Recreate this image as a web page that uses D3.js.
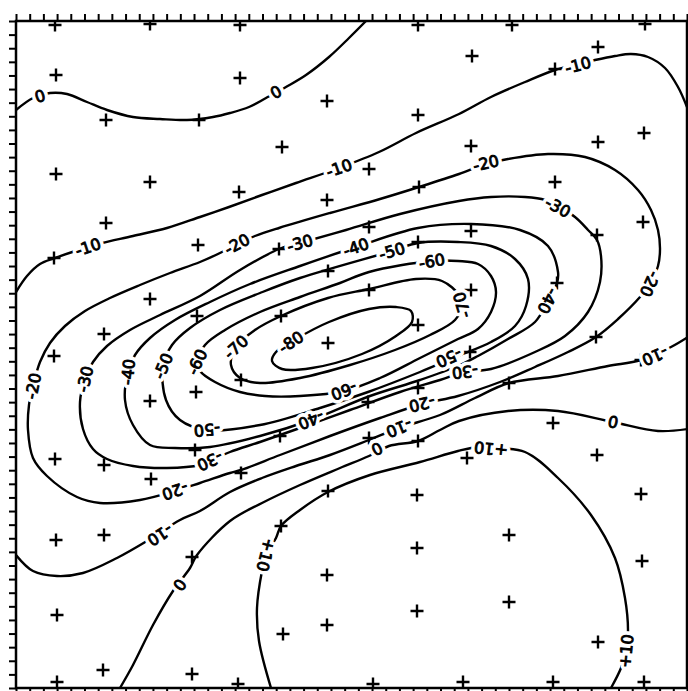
<!DOCTYPE html>
<html><head><meta charset="utf-8">
<script src="https://cdn.jsdelivr.net/npm/d3@7"></script>
<style>body{margin:0;background:#fff}</style></head>
<body><div id="chart"></div>
<script>
// ---- data (sheet units: x right, y down) ----
const sheetWidth = 671, sheetHeight = 667, tickIntervals = 49;

const stations = [
 [39,4],[134,3],[224,4],[402,4],[496,4],[629,3],
 [40,54],[90,99],[183,99],[40,153],[134,161],[90,202],
 [224,57],[311,80],[402,94],[266,126],[353,148],[223,171],[311,179],[403,166],[353,206],
 [456,35],[582,26],[539,48],[455,125],[582,121],[628,112],[539,161],[627,201],[455,210],
 [38,237],[182,224],[134,278],[88,313],[38,335],[181,295],[134,380],[180,371],[179,429],[39,438],
 [263,228],[402,221],[312,250],[353,269],[265,295],[402,304],[312,322],[225,359],[402,367],[352,381],[264,415],[353,417],[402,420],
 [581,214],[455,269],[541,262],[454,331],[580,316],[625,339],[493,362],[537,402],[451,437],[581,434],
 [88,444],[135,458],[40,519],[88,514],[176,536],[41,594],[87,649],[176,653],[41,661],
 [225,452],[312,470],[401,474],[265,505],[401,527],[311,554],[401,590],[311,604],[267,613],[222,663],[357,663],
 [625,473],[493,514],[626,540],[493,581],[582,621],[447,661],[537,661],[628,661]
];

const c0Top = [[0,89],[17,77],[34,72],[51,73],[71,81],[91,89],[117,96],[144,98],[171,99],[197,96],[214,92],[233,86],[250,77],[270,66],[290,54],[313,36],[333,17],[350,0]];
const cm10Top = [[0,271],[11,255],[24,243],[39,237],[72,226],[86,222],[117,215],[151,207],[184,196],[213,186],[246,174],[280,162],[323,147],[363,131],[400,112],[443,93],[475,76],[509,61],[539,49],[562,43],[579,39],[599,35],[615,33],[632,36],[649,47],[662,66],[671,86]];
const cm20 = [[17,437],[12,409],[13,384],[17,365],[24,341],[34,322],[49,305],[69,290],[94,277],[124,264],[154,252],[184,241],[206,231],[221,223],[239,215],[263,207],[314,192],[364,178],[403,166],[443,153],[470,143],[492,138],[532,133],[569,136],[599,149],[622,169],[635,189],[642,209],[644,228],[642,245],[634,263],[624,276],[602,298],[580,316],[552,331],[519,346],[484,361],[442,375],[406,383],[364,397],[314,415],[264,434],[225,449],[214,452],[184,462],[159,470],[124,479],[84,482],[61,476],[31,455]];
const cm30 = [[91,438],[77,428],[67,408],[64,381],[69,358],[77,341],[91,325],[114,309],[144,294],[184,275],[224,249],[263,228],[284,222],[330,209],[384,193],[443,180],[475,176],[509,176],[529,179],[542,186],[559,196],[572,209],[581,219],[585,235],[584,261],[572,291],[549,315],[519,331],[475,348],[449,351],[424,359],[384,371],[334,389],[284,407],[244,421],[214,431],[194,440],[184,444],[151,447],[117,445]];
const cm40 = [[134,424],[117,404],[109,379],[112,351],[119,334],[134,317],[159,299],[194,281],[234,263],[284,245],[340,226],[402,207],[455,203],[504,209],[532,225],[542,251],[541,262],[532,280],[519,301],[492,318],[462,335],[442,345],[404,359],[354,375],[295,399],[244,415],[194,426],[159,427]];
const cm50 = [[147,345],[156,324],[174,307],[204,289],[244,272],[284,257],[376,230],[402,222],[442,221],[475,225],[499,238],[512,258],[510,285],[499,305],[475,321],[442,335],[404,351],[352,371],[304,387],[244,404],[191,409],[164,399],[150,379]];
const cm60 = [[181,341],[189,324],[209,309],[244,291],[284,276],[324,262],[353,251],[416,240],[442,240],[462,243],[475,255],[480,271],[475,291],[462,308],[442,318],[404,337],[364,357],[328,370],[284,375],[249,375],[224,371],[199,361],[184,350]];
const cm70 = [[220,326],[239,309],[265,295],[312,277],[353,268],[400,258],[426,260],[443,274],[446,284],[439,299],[414,314],[379,329],[334,344],[284,357],[244,362],[224,357],[215,344]];
const cm80 = [[256,340],[266,348],[296,347],[346,333],[380,315],[396,301],[395,290],[380,286],[353,288],[313,301],[280,318],[260,331]];
const c0Low = [[104,667],[117,644],[137,604],[157,570],[174,547],[181,534],[214,500],[246,482],[284,464],[324,447],[353,435],[373,425],[402,420],[424,409],[443,400],[492,390],[542,390],[597,401],[642,410],[672,408]];
const cm10Low = [[0,534],[17,550],[41,555],[67,552],[101,537],[131,520],[164,499],[184,490],[214,471],[246,457],[280,445],[314,434],[353,419],[383,407],[424,394],[459,377],[493,362],[542,355],[592,345],[625,339],[655,326],[672,316]];
const cp10 = [[255,667],[243,620],[241,587],[246,550],[250,534],[260,517],[265,505],[284,489],[312,471],[354,454],[404,441],[442,430],[462,426],[475,427],[509,431],[542,457],[575,494],[599,537],[609,577],[612,610],[610,630],[605,647],[595,667]];

const contourLevels = [0,-10,-20,-30,-40,-50,-60,-70,-80,0,-10,10];
const contourLines = [c0Top,cm10Top,cm20,cm30,cm40,cm50,cm60,cm70,cm80,c0Low,cm10Low,cp10];
const contourClosed = [false,false,true,true,true,true,true,true,true,false,false,false];

// label anchors: [contour index, x, y, upside-down]
const labelAnchors = [
 [0,24,75,0],[0,260,71,0],
 [1,72,226,0],[1,323,147,0],[1,562,44,0],
 [2,17,365,0],[2,221,223,0],[2,470,142,0],[2,634,263,1],[2,406,383,1],[2,159,470,1],
 [3,69,358,0],[3,284,222,0],[3,542,186,0],[3,449,351,1],[3,194,440,1],
 [4,112,351,0],[4,340,226,0],[4,532,280,1],[4,295,399,1],
 [5,147,345,0],[5,376,230,0],[5,433,337,1],[5,191,409,1],
 [6,181,341,0],[6,416,240,0],[6,328,370,1],
 [7,220,326,0],[7,446,284,1],
 [8,275,321,0],
 [9,164,564,0],[9,361,428,1],[9,597,401,1],
 [10,144,514,1],[10,383,407,1],[10,639,335,1],
 [11,250,534,1],[11,475,428,1],[11,610,630,0]
];

// ---- drawing ----
const W = 688, H = 691;
const svg = d3.select("#chart").append("svg").attr("width", W).attr("height", H)
  .style("font-family", "'DejaVu Sans', sans-serif");
const x = d3.scaleLinear().domain([0, sheetWidth]).range([16, 687]);
const y = d3.scaleLinear().domain([0, sheetHeight]).range([21, 688]);

const xt = d3.range(tickIntervals + 1).map(i => i * sheetWidth / tickIntervals);
const yt = d3.range(tickIntervals + 1).map(i => i * sheetHeight / tickIntervals);
function styleAxis(g){ g.select(".domain").remove(); g.selectAll(".tick line").attr("stroke","#000").attr("stroke-width",2); }
svg.append("g").attr("transform","translate(0,21)").call(d3.axisTop(x).tickValues(xt).tickSize(7).tickFormat("")).call(styleAxis);
svg.append("g").attr("transform","translate(0,688)").call(d3.axisBottom(x).tickValues(xt).tickSize(7).tickFormat("")).call(styleAxis);
svg.append("g").attr("transform","translate(16,0)").call(d3.axisLeft(y).tickValues(yt).tickSize(7).tickFormat("")).call(styleAxis);
svg.append("g").attr("transform","translate(687,0)").call(d3.axisRight(y).tickValues(yt).tickSize(7).tickFormat("")).call(styleAxis);

svg.append("clipPath").attr("id","clip").append("rect")
  .attr("x", x(0)).attr("y", y(0)).attr("width", x(sheetWidth)-x(0)).attr("height", y(sheetHeight)-y(0));

const plot = svg.append("g").attr("clip-path","url(#clip)");
const lineOpen = d3.line().x(d=>x(d[0])).y(d=>y(d[1])).curve(d3.curveCatmullRom.alpha(0.5));
const lineClosed = d3.line().x(d=>x(d[0])).y(d=>y(d[1])).curve(d3.curveCatmullRomClosed.alpha(0.5));

plot.selectAll("path.contour").data(contourLines).join("path")
  .attr("class","contour")
  .attr("d",(d,i)=> contourClosed[i] ? lineClosed(d) : lineOpen(d))
  .attr("fill","none").attr("stroke","#000").attr("stroke-width",2.4).attr("stroke-linejoin","round");

// stations
plot.selectAll("path.st").data(stations).join("path").attr("class","st")
  .attr("transform", d=>`translate(${x(d[0])},${y(d[1])})`)
  .attr("d","M-6.5,0H6.5M0,-6.5V6.5").attr("stroke","#000").attr("stroke-width",2.4);

// labels oriented along the nearest contour segment
function segAngle(pts, closed, px, py){
  let best=1e9, ang=0; const n=pts.length;
  const m = closed ? n : n-1;
  for(let i=0;i<m;i++){
    const a=pts[i], b=pts[(i+1)%n];
    const ax=x(a[0]), ay=y(a[1]), bx=x(b[0]), by=y(b[1]);
    const dx=bx-ax, dy=by-ay, L=dx*dx+dy*dy||1;
    let t=((px-ax)*dx+(py-ay)*dy)/L; t=Math.max(0,Math.min(1,t));
    const qx=ax+t*dx-px, qy=ay+t*dy-py, dd=qx*qx+qy*qy;
    if(dd<best){best=dd; ang=Math.atan2(dy,dx)*180/Math.PI;}
  }
  if(ang>90) ang-=180; if(ang<=-90) ang+=180;
  return ang;
}
function labelText(v){ return v>0 ? "+"+v : v<0 ? "-"+Math.abs(v) : "0"; }
const lab = plot.selectAll("g.lab").data(labelAnchors).join("g").attr("class","lab")
  .attr("transform", d=>{
    const px=x(d[1]), py=y(d[2]);
    const a=segAngle(contourLines[d[0]], contourClosed[d[0]], px, py) + (d[3]?180:0);
    return `translate(${px},${py}) rotate(${a})`;
  });
lab.append("text").text(d=>labelText(contourLevels[d[0]]))
  .attr("text-anchor","middle").attr("dy","0.36em").attr("font-size",16)
  .attr("fill","#fff").attr("stroke","#fff").attr("stroke-width",8).attr("stroke-linejoin","round");
lab.append("text").text(d=>labelText(contourLevels[d[0]]))
  .attr("text-anchor","middle").attr("dy","0.36em").attr("font-size",16)
  .attr("fill","#000").attr("stroke","#000").attr("stroke-width",0.9);

// frame
svg.append("rect").attr("x",x(0)).attr("y",y(0)).attr("width",x(sheetWidth)-x(0)).attr("height",y(sheetHeight)-y(0))
  .attr("fill","none").attr("stroke","#000").attr("stroke-width",2.5);
</script></body></html>
